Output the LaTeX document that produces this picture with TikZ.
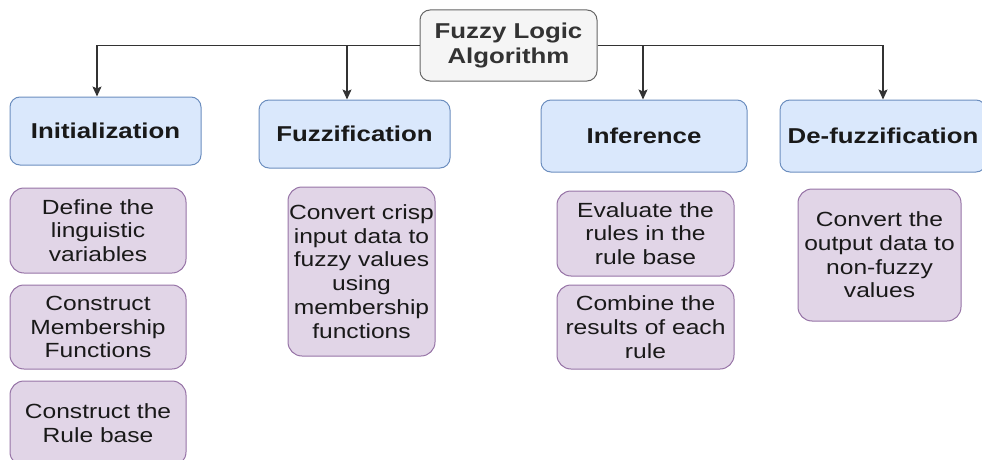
\documentclass[tikz,border=0pt]{standalone}
\usepackage{fontspec}
\setmainfont{Liberation Sans}[FakeStretch=1.2]
\usetikzlibrary{arrows.meta,calc}
\definecolor{rootfill}{HTML}{F5F5F5}
\definecolor{rootline}{HTML}{666666}
\definecolor{rootText}{HTML}{333333}
\definecolor{stagefill}{HTML}{DAE8FC}
\definecolor{stageline}{HTML}{6C8EBF}
\definecolor{taskfill}{HTML}{E1D5E7}
\definecolor{taskline}{HTML}{9673A6}
\definecolor{wire}{HTML}{333333}
\tikzset{
  rootbox/.style={draw=rootline, fill=rootfill, line width=1pt, rounded corners=10pt,
    minimum width=177pt, minimum height=71pt, align=center, text=rootText,
    font=\fontsize{21.5}{25}\selectfont\bfseries, inner sep=0pt},
  stagebox/.style={draw=stageline, fill=stagefill, line width=1pt, rounded corners=10pt,
    minimum height=70pt, align=center, text=black!90,
    font=\fontsize{21.5}{25}\selectfont\bfseries, inner sep=0pt},
  taskbox/.style={draw=taskline, fill=taskfill, line width=1pt, rounded corners=14pt,
    align=center, text=black!90,
    font=\fontsize{20.5}{23.7}\selectfont, inner sep=0pt},
  arr/.style={draw=wire, line width=1.3pt, -{Stealth[length=10pt,width=9pt,inset=2pt]}}
}
\begin{document}
\begin{tikzpicture}[x=1pt,y=-1pt]
\useasboundingbox (0,0) rectangle (982,460);
\clip (0,0) rectangle (982,460);

% root of the hierarchy
\node[rootbox] (root) at (508.5,45.5) {Fuzzy Logic\\Algorithm};

% the four stages
\node[stagebox, minimum width=191pt, minimum height=68pt] (init) at (105.5,131) {Initialization};
\node[stagebox, minimum width=191pt, minimum height=68pt] (fuzz) at (354.5,134) {Fuzzification};
\node[stagebox, minimum width=206pt, minimum height=72pt] (infer) at (644,136) {Inference};
\node[stagebox, minimum width=206pt, minimum height=72pt] (defuzz) at (883,136) {De-fuzzification};

% tasks of each stage
\node[taskbox, minimum width=176pt, minimum height=85pt] (define) at (98,230.5) {Define the\\linguistic\\variables};
\node[taskbox, minimum width=176pt, minimum height=84pt] (member) at (98,327) {Construct\\Membership\\Functions};
\node[taskbox, minimum width=176pt, minimum height=85pt] (rules) at (98,423.5) {Construct the\\Rule base};
\node[taskbox, minimum width=147pt, minimum height=169pt] (crisp) at (361.5,271.5) {Convert crisp\\input data to\\fuzzy values\\using\\membership\\functions};
\node[taskbox, minimum width=177pt, minimum height=85pt] (evalr) at (645.5,233.5) {Evaluate the\\rules in the\\rule base};
\node[taskbox, minimum width=177pt, minimum height=84pt] (combine) at (645.5,327) {Combine the\\results of each\\rule};
\node[taskbox, minimum width=163pt, minimum height=132pt] (output) at (879.5,255) {Convert the\\output data to\\non-fuzzy\\values};

% connectors from the root to each stage
\draw[arr] (root.west) -| ($(init.north)+(-8.5,0)$);
\draw[arr] (root.west) -| ($(fuzz.north)+(-7.5,0)$);
\draw[arr] (root.east) -| ($(infer.north)+(-1,0)$);
\draw[arr] (root.east) -| (defuzz.north);
\end{tikzpicture}
\end{document}
